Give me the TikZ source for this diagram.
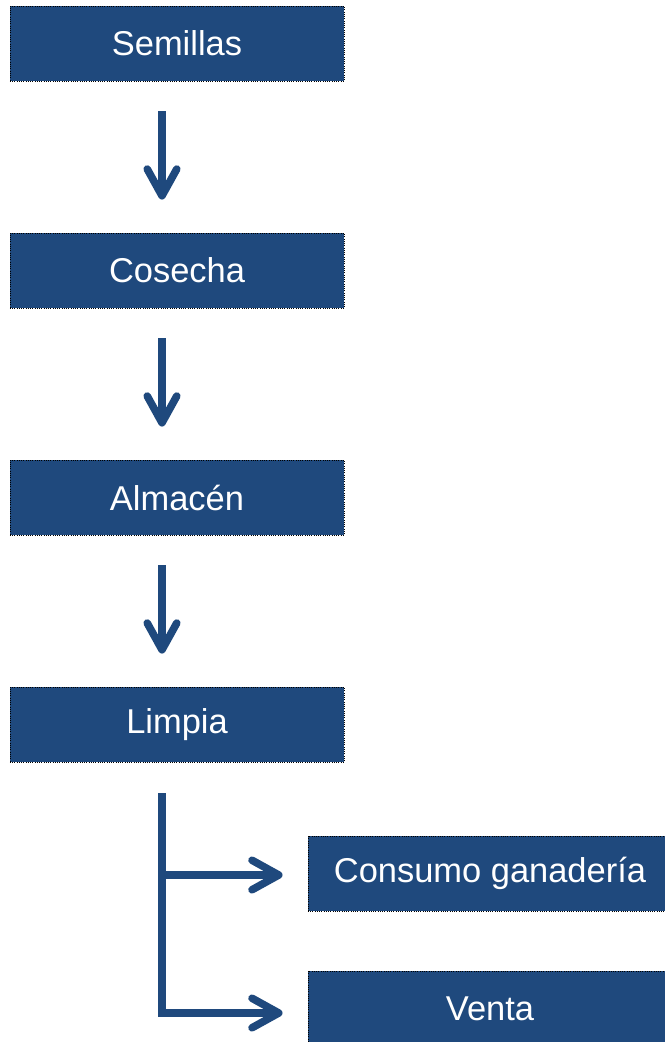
\documentclass[tikz,border=0pt]{standalone}
\usepackage{fontspec}
\setmainfont{Liberation Sans}
\usepackage{tikz}
\usetikzlibrary{positioning, arrows.meta}
\definecolor{azul}{RGB}{31, 73, 125}
\tikzset{
    caja/.style={rectangle, fill=azul, draw=black, densely dotted, line width=0.6pt, text=white,
                 minimum width=8.35cm, minimum height=1.875cm, inner sep=0pt,
                 font=\fontsize{24.5}{28}\selectfont},
    cajaAncha/.style={caja, minimum width=9.1cm},
    flecha/.style={-{Straight Barb[length=19pt, width=21pt, round]}, azul, line width=5.4pt},
}

\begin{document}
\begin{tikzpicture}[x=0.025cm, y=-0.025cm]
    \useasboundingbox (0,0) rectangle (665,1042);

    \node [caja] (sem) at (177,43.5) {Semillas};
    \node [caja] (cos) at (177,270.5) {Cosecha};
    \node [caja] (alm) at (177,497.5) {Almacén};
    \node [caja] (lim) at (177,724.5) {Limpia};
    \node [cajaAncha] (con) at (490,873.5) {Consumo ganadería};
    \node [cajaAncha] (ven) at (490,1008.5) {Venta};

    \draw[flecha] ([shift={(-15,30)}]sem.south) -- ([shift={(-15,-33)}]cos.north);
    \draw[flecha] ([shift={(-15,30)}]cos.south) -- ([shift={(-15,-33)}]alm.north);
    \draw[flecha] ([shift={(-15,30)}]alm.south) -- ([shift={(-15,-33)}]lim.north);

    \coordinate (rama) at ([shift={(-15,31)}]lim.south);
    \draw[flecha] (rama) |- ([shift={(-25,4.5)}]ven.west);
    \draw[flecha] ([shift={(0,1.5)}]rama |- con.west) -- ([shift={(-25,1.5)}]con.west);
\end{tikzpicture}
\end{document}
